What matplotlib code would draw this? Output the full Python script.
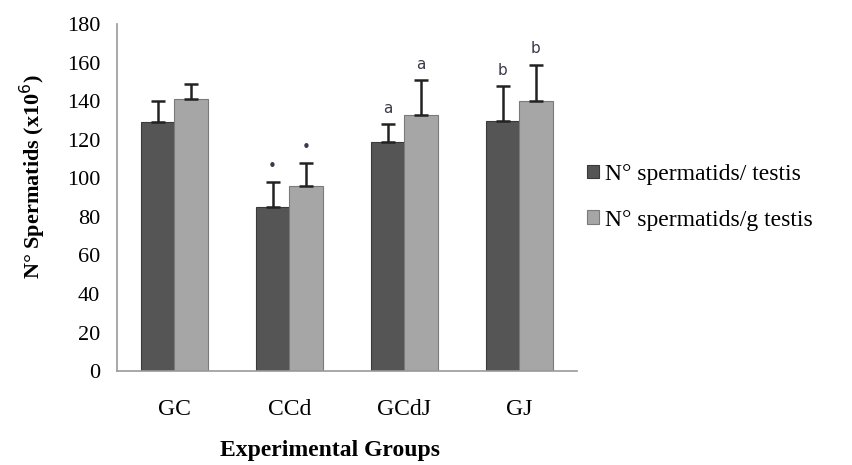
import numpy as np
import matplotlib.pyplot as plt

groups = ["GC", "CCd", "GCdJ", "GJ"]
per_testis = [129, 85, 119, 130]
per_testis_err = [11, 13, 9, 18]
per_gram = [141, 96, 133, 140]
per_gram_err = [8, 12, 18, 19]
marks_testis = ["", "•", "a", "b"]
marks_gram = ["", "•", "a", "b"]

plt.rcParams["font.family"] = ["Liberation Serif", "DejaVu Serif"]

fig = plt.figure(figsize=(8.52, 4.65), dpi=100)
ax = fig.add_axes([0.137, 0.202, 0.54, 0.746])

x = np.arange(len(groups))
w = 0.29

b1 = ax.bar(x - w / 2, per_testis, w, color="#555555", edgecolor="#3a3a3a",
            linewidth=0.8, label="N° spermatids/ testis")
b2 = ax.bar(x + w / 2, per_gram, w, color="#a6a6a6", edgecolor="#7a7a7a",
            linewidth=0.8, label="N° spermatids/g testis")

ax.errorbar(x - w / 2, per_testis, yerr=[np.zeros(4), per_testis_err],
            fmt="none", ecolor="#222222", elinewidth=1.8, capsize=5, capthick=1.8)
ax.errorbar(x + w / 2, per_gram, yerr=[np.zeros(4), per_gram_err],
            fmt="none", ecolor="#222222", elinewidth=1.8, capsize=5, capthick=1.8)

# significance marks above error bars
for i in range(len(groups)):
    for xs, v, e, m in [(x[i] - w / 2, per_testis[i], per_testis_err[i], marks_testis[i]),
                        (x[i] + w / 2, per_gram[i], per_gram_err[i], marks_gram[i])]:
        if m:
            ax.annotate(m, (xs, v + e), xytext=(0, 6), textcoords="offset points",
                        ha="center", va="bottom", fontsize=11,
                        family="DejaVu Sans", color="#3a3a4a")

ax.set_xlim(-0.5, 3.5)
ax.set_ylim(0, 180)
ax.set_yticks(np.arange(0, 181, 20))
ax.set_xticks(x)
ax.set_xticklabels(groups, fontsize=17)
ax.tick_params(axis="y", labelsize=16, length=0, pad=12)
ax.tick_params(axis="x", length=0, pad=20)

for s in ["top", "right"]:
    ax.spines[s].set_visible(False)
ax.spines["left"].set_color("#999999")
ax.spines["bottom"].set_color("#999999")
ax.spines["left"].set_linewidth(1.2)
ax.spines["bottom"].set_linewidth(1.2)

ax.set_ylabel("N° Spermatids (x10$^6$)", fontsize=16, fontweight="bold")
ax.set_xlabel("Experimental Groups", fontsize=17, fontweight="bold")
ax.yaxis.set_label_coords(-0.15, 0.56)
ax.xaxis.set_label_coords(0.463, -0.2)

fig.legend(handles=[b1, b2], loc="center left", bbox_to_anchor=(0.675, 0.576),
           frameon=False, fontsize=17, handlelength=0.5, handleheight=0.5,
           handletextpad=0.25, labelspacing=1.05, borderpad=0)

fig.savefig("out.png", dpi=100)
